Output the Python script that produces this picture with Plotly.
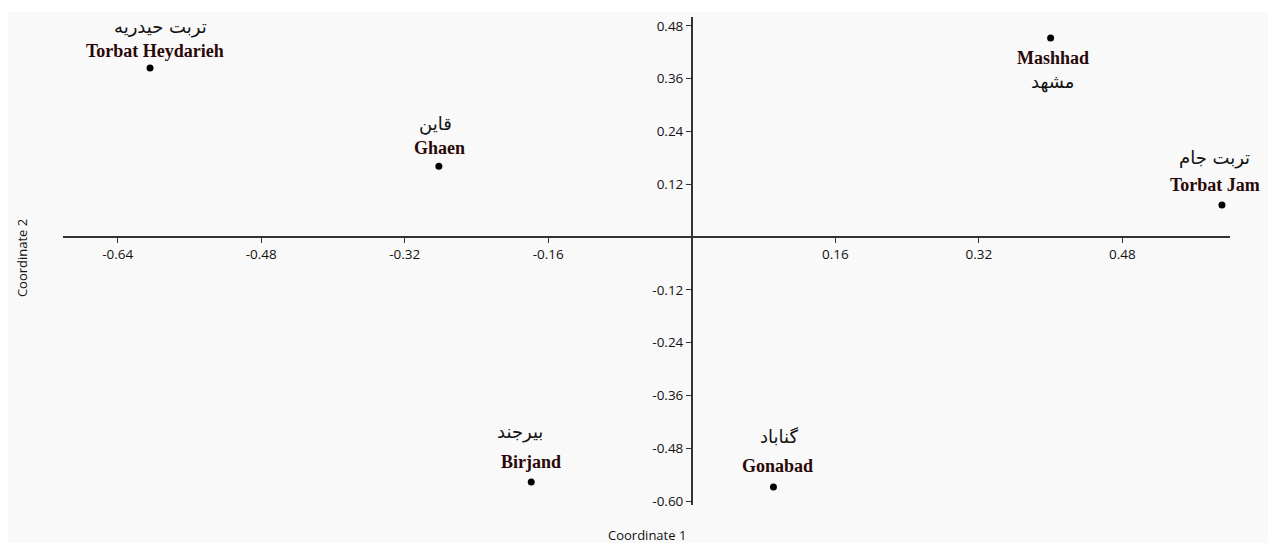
import plotly.graph_objects as go

# ---- data ----
cities_en = ["Torbat Heydarieh", "Ghaen", "Mashhad", "Torbat Jam", "Birjand", "Gonabad"]
cities_fa = ["تربت حیدریه", "قاین", "مشهد", "تربت جام", "بیرجند", "گناباد"]
coord1 = [-0.604, -0.282, 0.400, 0.591, -0.179, 0.091]
coord2 = [0.384, 0.161, 0.452, 0.073, -0.557, -0.568]

x_tickvals = [-0.64, -0.48, -0.32, -0.16, 0.16, 0.32, 0.48]
x_ticktext = ["-0.64", "-0.48", "-0.32", "-0.16", "0.16", "0.32", "0.48"]
y_tickvals = [0.48, 0.36, 0.24, 0.12, -0.12, -0.24, -0.36, -0.48, -0.60]
y_ticktext = ["0.48", "0.36", "0.24", "0.12", "-0.12", "-0.24", "-0.36", "-0.48", "-0.60"]

x_title = "Coordinate 1"
y_title = "Coordinate 2"

# ---- layout / style ----
# page body has ~8px margin, so the figure is sized/offset to compensate
W, H = 1260, 535
ML, MR, MT, MB = 55, 38, 9, 38
x_range = [-0.701, 0.600]
y_range = [-0.609, 0.500]

# label pixel offsets (style only): (dx_en, dy_en, dx_fa, dy_fa)
label_offsets = [
    (5, 17, 10, 41),
    (1, 18, -3, 42),
    (2, -20, 2, -44),
    (-7, 20, -7, 47),
    (0, 20, -11, 50),
    (4, 21, 6, 50),
]

xpos = (0 - x_range[0]) / (x_range[1] - x_range[0])
ypos = (0 - y_range[0]) / (y_range[1] - y_range[0])

axis_color = "#333333"
sans = "Open Sans, Noto Sans, sans-serif"
tick_font = dict(family=sans, size=13.5, color="#111111")

fig = go.Figure()
fig.add_trace(go.Scatter(
    x=coord1, y=coord2, mode="markers",
    marker=dict(color="black", size=7),
    hoverinfo="skip", showlegend=False,
))

annotations = []
for xe, ye, en, fa, off in zip(coord1, coord2, cities_en, cities_fa, label_offsets):
    annotations.append(dict(
        x=xe, y=ye, xref="x", yref="y", text="<b>%s</b>" % en, showarrow=False,
        xshift=off[0], yshift=off[1],
        font=dict(family="Liberation Serif, Times New Roman, serif", size=18, color="#2a0808"),
    ))
    annotations.append(dict(
        x=xe, y=ye, xref="x", yref="y", text=fa, showarrow=False,
        xshift=off[2], yshift=off[3],
        font=dict(family="DejaVu Sans, sans-serif", size=18, color="#111111"),
    ))

annotations.append(dict(
    x=0.5, y=-0.0615, xref="paper", yref="paper", text=x_title, showarrow=False,
    yanchor="middle", font=dict(family=sans, size=13, color="#111111"),
))
annotations.append(dict(
    x=-0.0351, y=0.506, xref="paper", yref="paper", text=y_title, showarrow=False,
    textangle=-90, xanchor="center", yanchor="middle",
    font=dict(family=sans, size=13, color="#111111"),
))

fig.update_layout(
    width=W, height=H,
    margin=dict(l=ML, r=MR, t=MT, b=MB),
    paper_bgcolor="white",
    plot_bgcolor="rgba(0,0,0,0)",
    annotations=annotations,
    shapes=[dict(
        type="rect", xref="paper", yref="paper",
        x0=-0.0488, x1=1.034, y0=-0.088, y1=1.0102,
        fillcolor="#f9f9f9", line=dict(width=0), layer="below",
    )],
    xaxis=dict(
        range=x_range, showgrid=False, zeroline=False,
        showline=True, linecolor=axis_color, linewidth=1.5,
        anchor="free", position=ypos,
        tickvals=x_tickvals, ticktext=x_ticktext,
        ticks="outside", ticklen=5, tickwidth=1.2, tickcolor=axis_color,
        tickfont=tick_font,
    ),
    yaxis=dict(
        range=y_range, showgrid=False, zeroline=False,
        showline=True, linecolor=axis_color, linewidth=1.5,
        anchor="free", position=xpos,
        tickvals=y_tickvals, ticktext=y_ticktext,
        ticks="outside", ticklen=5, tickwidth=1.2, tickcolor=axis_color,
        tickfont=tick_font,
    ),
)

fig.write_html("out.html")
